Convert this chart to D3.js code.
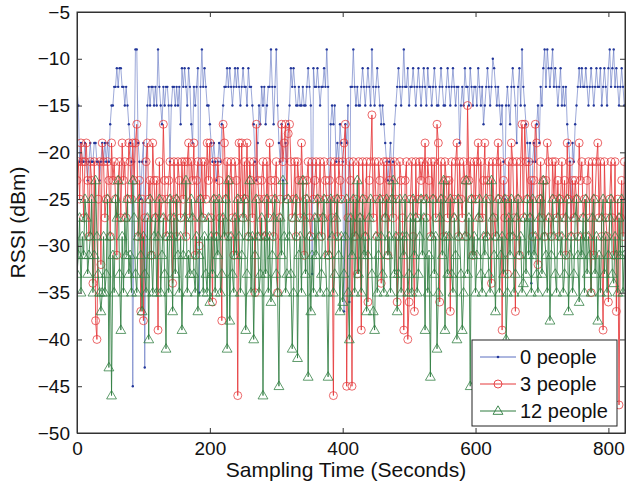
<!DOCTYPE html>
<html>
<head>
<meta charset="utf-8">
<script src="https://cdn.jsdelivr.net/npm/d3@7"></script>
<style>
  body { margin: 0; background: #fff; }
  text { font-family: "Liberation Sans", Arial, sans-serif; fill: #111; }
</style>
</head>
<body>
<div id="chart"></div>
<script>
// RSSI readings, one every sampleStep seconds
var sampleStep = 2;

var people0 = [
  -13,-15,-21,-19,-21,-21,-19,-21,-23,-21,-19,-21,-21,-19,-19,-21,-21,-23,-21,-19,
  -21,-19,-21,-19,-21,-17,-15,-15,-13,-13,-11,-13,-11,-11,-13,-13,-15,-13,-15,-17,
  -19,-21,-45,-21,-9,-9,-19,-21,-25,-21,-19,-43,-21,-15,-13,-15,-13,-13,-15,-13,
  -15,-9,-13,-15,-17,-13,-15,-13,-13,-15,-21,-15,-13,-13,-15,-13,-15,-13,-17,-11,
  -13,-11,-13,-15,-11,-13,-17,-19,-13,-15,-13,-11,-35,-13,-9,-13,-11,-13,-15,-15,
  -17,-19,-21,-19,-21,-23,-21,-19,-21,-17,-15,-13,-13,-11,-13,-11,-13,-15,-13,-11,
  -13,-11,-13,-15,-13,-11,-13,-13,-15,-11,-13,-13,-15,-17,-21,-23,-19,-15,-17,-13,
  -15,-13,-17,-15,-13,-13,-9,-13,-17,-13,-9,-15,-19,-21,-17,-23,-25,-19,-21,-17,
  -15,-11,-13,-11,-13,-15,-15,-13,-15,-15,-13,-15,-15,-13,-11,-13,-15,-33,-11,-13,
  -13,-11,-13,-15,-13,-13,-11,-13,-9,-13,-29,-17,-15,-17,-15,-21,-19,-21,-17,-19,
  -21,-37,-17,-19,-15,-36,-13,-13,-9,-13,-15,-13,-15,-15,-13,-11,-13,-15,-13,-11,
  -13,-15,-9,-13,-15,-13,-11,-13,-15,-17,-15,-17,-19,-21,-23,-21,-19,-23,-21,-17,
  -15,-13,-11,-13,-15,-13,-9,-13,-13,-11,-15,-13,-13,-11,-13,-15,-13,-11,-13,-15,
  -13,-11,-13,-15,-11,-13,-13,-15,-13,-11,-13,-15,-15,-13,-11,-13,-15,-15,-13,-11,
  -13,-15,-13,-11,-13,-15,-13,-13,-19,-15,-13,-15,-11,-13,-13,-15,-11,-13,-15,-13,
  -13,-15,-11,-13,-15,-13,-17,-15,-13,-11,-13,-15,-13,-10,-11,-13,-15,-13,-15,-17,
  -15,-21,-25,-15,-13,-15,-17,-13,-11,-13,-15,-19,-13,-11,-15,-9,-13,-15,-17,-19,
  -21,-19,-34,-21,-19,-21,-17,-15,-19,-13,-15,-11,-9,-13,-9,-11,-13,-11,-9,-13,
  -11,-13,-15,-13,-11,-15,-13,-15,-13,-17,-19,-21,-27,-19,-21,-17,-15,-13,-11,-13,
  -11,-13,-13,-11,-13,-15,-13,-11,-13,-15,-13,-11,-13,-13,-11,-15,-13,-11,-13,-15,
  -11,-9,-13,-11,-9,-13,-11,-13,-15,-13,-11,-13,-15
];

var people3 = [
  -23,-21,-25,-19,-21,-27,-21,-19,-23,-29,-21,-23,-34,-21,-38,-40,-25,-21,-32,-19,
  -21,-27,-25,-21,-23,-29,-19,-23,-21,-25,-31,-23,-21,-27,-19,-23,-21,-27,-25,-19,
  -21,-25,-19,-23,-19,-17,-29,-23,-37,-25,-38,-27,-21,-19,-25,-23,-31,-19,-23,-27,
  -23,-39,-21,-27,-25,-17,-23,-29,-25,-23,-21,-27,-34,-21,-25,-29,-21,-23,-27,-21,
  -25,-21,-29,-21,-19,-27,-21,-23,-19,-31,-23,-21,-30,-25,-21,-27,-21,-25,-19,-23,
  -19,-27,-36,-21,-25,-29,-21,-23,-27,-38,-17,-19,-25,-21,-29,-23,-21,-27,-31,-21,
  -23,-46,-19,-25,-19,-27,-21,-25,-19,-29,-21,-23,-27,-21,-35,-17,-23,-25,-29,-23,
  -21,-25,-29,-21,-27,-19,-23,-25,-29,-23,-21,-35,-27,-25,-17,-21,-19,-17,-25,-18,
  -17,-21,-27,-25,-21,-29,-21,-23,-27,-19,-23,-31,-25,-23,-21,-27,-29,-21,-25,-23,
  -21,-27,-25,-21,-29,-27,-21,-23,-25,-31,-23,-21,-27,-46,-21,-25,-29,-21,-23,-25,
  -21,-19,-17,-45,-27,-21,-23,-45,-21,-29,-25,-33,-21,-27,-39,-21,-25,-29,-21,-36,
  -23,-21,-16,-27,-21,-25,-29,-21,-23,-34,-25,-21,-27,-21,-31,-23,-21,-25,-27,-21,
  -25,-36,-29,-21,-23,-27,-39,-23,-21,-40,-36,-25,-21,-29,-37,-21,-27,-25,-21,-23,
  -21,-25,-19,-27,-21,-23,-29,-21,-25,-21,-27,-17,-19,-36,-21,-25,-29,-21,-23,-27,
  -23,-37,-21,-27,-25,-21,-19,-29,-21,-25,-27,-21,-23,-29,-15,-23,-21,-25,-31,-21,
  -25,-21,-19,-27,-21,-27,-23,-19,-29,-23,-21,-25,-34,-21,-27,-29,-21,-19,-25,-21,
  -39,-23,-27,-25,-33,-21,-29,-19,-21,-27,-37,-21,-25,-31,-21,-17,-27,-17,-21,-25,
  -21,-27,-23,-29,-23,-17,-19,-32,-25,-21,-27,-23,-29,-23,-19,-21,-27,-29,-21,-25,
  -21,-27,-23,-29,-25,-21,-27,-23,-31,-19,-25,-21,-29,-23,-27,-23,-25,-29,-19,-23,
  -21,-27,-25,-29,-23,-21,-27,-35,-21,-31,-25,-21,-19,-27,-21,-29,-39,-21,-27,-29,
  -36,-25,-21,-27,-31,-21,-37,-25,-47,-27,-23,-29,-21
];

var people12 = [
  -33,-31,-27,-35,-29,-31,-25,-27,-33,-31,-29,-25,-35,-31,-23,-29,-33,-35,-37,-35,
  -29,-35,-33,-25,-43,-29,-46,-31,-35,-25,-27,-23,-33,-39,-29,-35,-27,-31,-25,-33,
  -31,-35,-23,-27,-33,-35,-29,-25,-31,-37,-29,-33,-35,-27,-40,-25,-31,-35,-29,-27,
  -35,-29,-25,-35,-31,-27,-33,-41,-29,-35,-25,-29,-37,-27,-33,-25,-31,-35,-29,-39,
  -31,-27,-23,-35,-31,-33,-25,-27,-33,-35,-29,-37,-31,-25,-27,-35,-29,-33,-35,-27,
  -36,-29,-33,-25,-35,-29,-31,-25,-35,-33,-27,-29,-25,-41,-23,-38,-29,-33,-35,-27,
  -31,-25,-29,-35,-31,-27,-25,-39,-33,-29,-23,-35,-29,-40,-31,-25,-29,-35,-33,-27,
  -46,-29,-33,-25,-35,-29,-36,-31,-27,-25,-33,-35,-45,-27,-31,-23,-29,-35,-33,-25,
  -29,-33,-41,-35,-27,-25,-42,-31,-29,-35,-23,-27,-33,-25,-44,-29,-37,-31,-35,-27,
  -31,-25,-29,-35,-33,-27,-25,-31,-35,-44,-31,-25,-29,-35,-33,-27,-25,-31,-37,-29,
  -36,-33,-29,-25,-35,-40,-27,-31,-25,-35,-29,-23,-33,-27,-35,-25,-31,-29,-37,-31,
  -27,-25,-33,-37,-39,-29,-35,-31,-25,-29,-33,-35,-27,-25,-31,-29,-35,-25,-23,-33,
  -29,-37,-33,-25,-35,-29,-31,-25,-29,-35,-33,-27,-35,-25,-31,-27,-35,-33,-29,-25,
  -31,-27,-39,-25,-35,-31,-44,-29,-25,-33,-29,-41,-35,-27,-25,-31,-23,-39,-29,-33,
  -29,-25,-33,-35,-27,-31,-40,-25,-29,-33,-39,-35,-29,-23,-33,-27,-45,-25,-31,-29,
  -35,-31,-27,-25,-33,-35,-29,-31,-25,-29,-33,-35,-23,-27,-31,-37,-29,-25,-35,-31,
  -29,-33,-25,-40,-35,-27,-31,-25,-29,-35,-33,-27,-25,-31,-29,-35,-34,-27,-33,-25,
  -31,-27,-35,-25,-31,-29,-33,-35,-27,-25,-33,-23,-29,-31,-35,-27,-38,-31,-25,-29,
  -33,-35,-27,-25,-31,-29,-35,-33,-27,-25,-37,-31,-29,-35,-33,-27,-25,-31,-36,-29,
  -31,-27,-35,-25,-33,-29,-31,-35,-27,-25,-33,-29,-38,-31,-35,-27,-25,-33,-29,-35,
  -31,-27,-25,-33,-34,-29,-31,-35,-27,-31,-25,-35,-31
];

var seriesNames = ["0 people", "3 people", "12 people"];
var xTicks = [0, 200, 400, 600, 800];
var yTicks = [-50, -45, -40, -35, -30, -25, -20, -15, -10, -5];

var W = 629, H = 487;
var margin = {top: 12, right: 4, bottom: 54, left: 77};
var width = W - margin.left - margin.right;
var height = H - margin.top - margin.bottom;

var svg = d3.select("#chart").append("svg")
  .attr("width", W)
  .attr("height", H);

var g = svg.append("g")
  .attr("transform", "translate(" + margin.left + "," + margin.top + ")");

var x = d3.scaleLinear().domain([0, 825]).range([0, width]);
var y = d3.scaleLinear().domain([-50, -5]).range([height, 0]);

svg.append("defs").append("clipPath").attr("id", "clip")
  .append("rect").attr("width", width).attr("height", height);

var styles = [
  {data: people0, line: "#5b6fc0", mark: "#23379a", type: "dot"},
  {data: people3, line: "#e5383b", mark: "#e5383b", type: "circle"},
  {data: people12, line: "#2e7d3f", mark: "#2e7d3f", type: "triangle"}
];

var line = d3.line()
  .x(function(d, i) { return x(i * sampleStep); })
  .y(function(d) { return y(d); });

var tri = d3.symbol().type(d3.symbolTriangle).size(42);

var plot = g.append("g").attr("clip-path", "url(#clip)");

styles.forEach(function(s) {
  var sg = plot.append("g");
  sg.append("path")
    .datum(s.data)
    .attr("d", line)
    .attr("fill", "none")
    .attr("stroke", s.line)
    .attr("stroke-opacity", s.type == "dot" ? 0.6 : 0.85)
    .attr("stroke-width", 1);

  if (s.type == "dot") {
    sg.selectAll("circle").data(s.data).enter().append("circle")
      .attr("cx", function(d, i) { return x(i * sampleStep); })
      .attr("cy", function(d) { return y(d); })
      .attr("r", 1.2)
      .attr("fill", s.mark);
  } else if (s.type == "circle") {
    sg.selectAll("circle").data(s.data).enter().append("circle")
      .attr("cx", function(d, i) { return x(i * sampleStep); })
      .attr("cy", function(d) { return y(d); })
      .attr("r", 4)
      .attr("fill", "none")
      .attr("stroke", s.mark)
      .attr("stroke-opacity", 0.85)
      .attr("stroke-width", 0.9);
  } else {
    sg.selectAll("path.m").data(s.data).enter().append("path")
      .attr("class", "m")
      .attr("d", tri)
      .attr("transform", function(d, i) { return "translate(" + x(i * sampleStep) + "," + (y(d) + 0.5) + ")"; })
      .attr("fill", "none")
      .attr("stroke", s.mark)
      .attr("stroke-opacity", 0.85)
      .attr("stroke-width", 0.9);
  }
});

// axes box, MATLAB style ticks on all four sides pointing in
var fmt = function(d) { return String(d).replace("-", "\u2212"); };

g.append("g")
  .attr("transform", "translate(0," + height + ")")
  .call(d3.axisBottom(x).tickValues(xTicks).tickSizeInner(-5).tickSizeOuter(0).tickPadding(9))
  .call(function(a) { a.selectAll("text").attr("font-size", 19); });
g.append("g")
  .call(d3.axisTop(x).tickValues(xTicks).tickSizeInner(-5).tickSizeOuter(0).tickFormat(""));
g.append("g")
  .call(d3.axisLeft(y).tickValues(yTicks).tickSizeInner(-5).tickSizeOuter(0).tickPadding(7).tickFormat(fmt))
  .call(function(a) { a.selectAll("text").attr("font-size", 19); });
g.append("g")
  .attr("transform", "translate(" + width + ",0)")
  .call(d3.axisRight(y).tickValues(yTicks).tickSizeInner(-5).tickSizeOuter(0).tickFormat(""));

g.selectAll(".domain").attr("stroke", "#333");
g.selectAll(".tick line").attr("stroke", "#333");
g.selectAll(".tick text").attr("fill", "#111").attr("font-family", "Liberation Sans, Arial, sans-serif");

g.append("rect")
  .attr("width", width).attr("height", height)
  .attr("fill", "none").attr("stroke", "#333").attr("stroke-width", 1);

svg.append("text")
  .attr("x", margin.left + width / 2 - 5)
  .attr("y", 477)
  .attr("text-anchor", "middle")
  .attr("font-size", 21)
  .text("Sampling Time (Seconds)");

svg.append("text")
  .attr("transform", "translate(25," + (margin.top + height / 2) + ") rotate(-90)")
  .attr("text-anchor", "middle")
  .attr("font-size", 21)
  .text("RSSI (dBm)");

// legend
var lg = svg.append("g").attr("transform", "translate(472,340)");
lg.append("rect")
  .attr("width", 145).attr("height", 86)
  .attr("fill", "#fff").attr("stroke", "#222").attr("stroke-width", 1);

styles.forEach(function(s, i) {
  var ly = 17 + i * 27;
  lg.append("line")
    .attr("x1", 8).attr("x2", 44).attr("y1", ly).attr("y2", ly)
    .attr("stroke", s.line).attr("stroke-width", 1);
  if (s.type == "dot") {
    lg.append("circle").attr("cx", 26).attr("cy", ly).attr("r", 1.3).attr("fill", s.mark);
  } else if (s.type == "circle") {
    lg.append("circle").attr("cx", 26).attr("cy", ly).attr("r", 4)
      .attr("fill", "none").attr("stroke", s.mark).attr("stroke-width", 0.9);
  } else {
    lg.append("path").attr("d", tri).attr("transform", "translate(26," + (ly + 0.5) + ")")
      .attr("fill", "none").attr("stroke", s.mark).attr("stroke-width", 0.9);
  }
  lg.append("text")
    .attr("x", 48).attr("y", ly + 7)
    .attr("font-size", 20)
    .text(seriesNames[i]);
});
</script>
</body>
</html>
